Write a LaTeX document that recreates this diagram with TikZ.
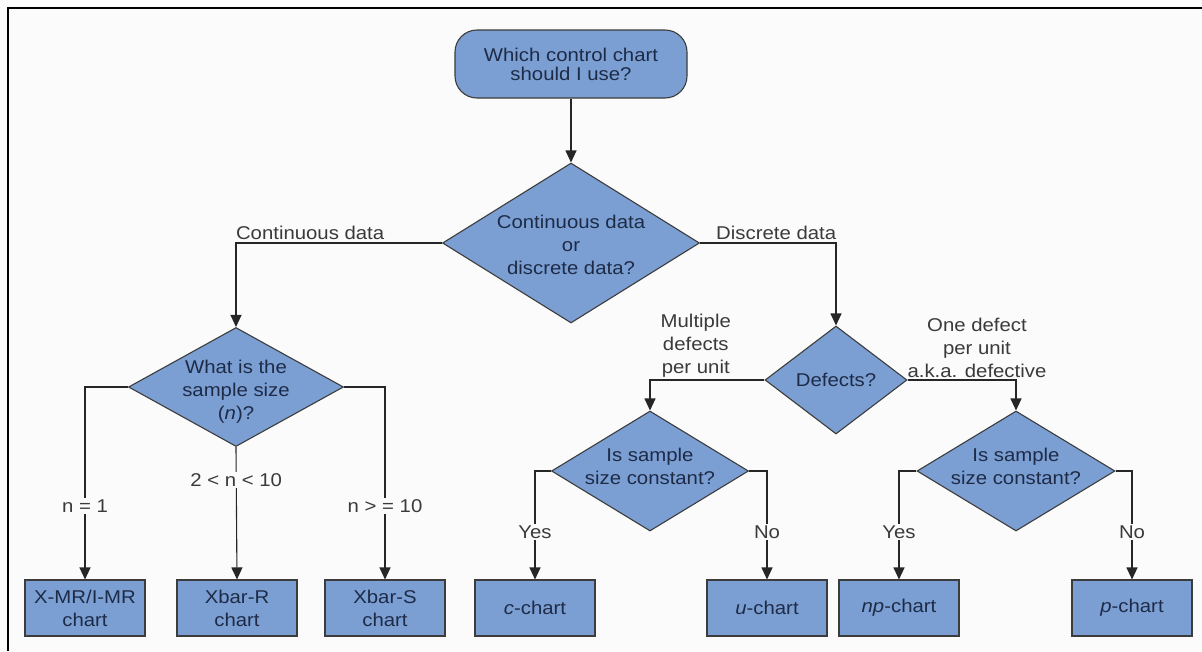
\documentclass[tikz,border=0pt]{standalone}
\usepackage{fontspec}
\setmainfont{Liberation Sans}[FakeStretch=1.1]
\usetikzlibrary{shapes.geometric,arrows.meta}
\definecolor{boxfill}{HTML}{7B9FD3}
\definecolor{boxline}{HTML}{3C3C3C}
\definecolor{txtin}{HTML}{1E2B47}
\definecolor{txtout}{HTML}{3A3A3A}
\definecolor{bgc}{HTML}{FBFBFB}
\begin{document}
\begin{tikzpicture}[x=1pt,y=-1pt,
  font=\fontsize{18.5}{23}\selectfont,
  shapebase/.style={draw=boxline,fill=boxfill,line width=1.1pt,inner sep=0pt},
  startbox/.style={shapebase,rectangle,rounded corners=22pt,minimum width=232pt,minimum height=68pt,
     text=txtin,align=center,font=\fontsize{18.5}{19}\selectfont},
  dia/.style={shapebase,diamond},
  intext/.style={text=txtin,align=center,inner sep=0pt},
  chartbox/.style={shapebase,rectangle,minimum width=120pt,minimum height=56pt,text=txtin,align=center},
  arr/.style={draw=black!85,line width=1.1pt,-{Triangle[width=11pt,length=12pt]}},
  lab/.style={text=txtout,align=center,inner sep=1pt},
  vlab/.style={lab,fill=bgc,inner sep=1.5pt}
]
\useasboundingbox (0,0) rectangle (1202,651);
\fill[bgc] (0,0) rectangle (1202,651);
\draw[line width=2pt,black] (8,651) -- (8,8) -- (1202,8);

% start
\node[startbox] (start) at (571,64) {Which control chart\\should I use?};

% main diamond
\node[dia,minimum width=257pt,minimum height=160pt] (d1) at (571,243) {};
\node[intext] (d1t) at (571,245) {Continuous data\\or\\discrete data?};

% sample size diamond
\node[dia,minimum width=215pt,minimum height=119pt] (d2) at (236,387) {};
\node[intext] (d2t) at (236,392) {What is the\\sample size\\(\textit{n})?};

% defects diamond
\node[dia,minimum width=142pt,minimum height=108pt] (def) at (836,380) {};
\node[intext] (deft) at (836,380) {Defects?};

% sample constant diamonds
\node[dia,minimum width=197pt,minimum height=120pt] (d3) at (650,471) {};
\node[intext] (d3t) at (650,466) {Is sample\\size constant?};
\node[dia,minimum width=198pt,minimum height=120pt] (d4) at (1016,471) {};
\node[intext] (d4t) at (1016,466) {Is sample\\size constant?};

% chart boxes
\node[chartbox] (b1) at (85,608) {X-MR/I-MR\\chart};
\node[chartbox] (b2) at (237,608) {Xbar-R\\chart};
\node[chartbox] (b3) at (385,608) {Xbar-S\\chart};
\node[chartbox] (b4) at (535,608) {\textit{c}-chart};
\node[chartbox] (b5) at (767,608) {\textit{u}-chart};
\node[chartbox] (b6) at (899,608) {\textit{np}-chart};
\node[chartbox] (b7) at (1132,608) {\textit{p}-chart};

% connectors
\draw[arr] (start.south) -- (d1.north);
\draw[arr] (d1.west) -| node[lab,pos=0.32,anchor=south,yshift=2pt] (lc) {Continuous data} (d2.north);
\draw[arr] (d1.east) -| node[lab,pos=0.28,anchor=south,yshift=2pt] (ld) {Discrete data} (def.north);

\draw[arr] (d2.west) -| node[vlab,pos=0.81] (l1) {n = 1} (b1.north);
\draw[arr] (d2.south) -- node[vlab,pos=0.25] (l2) {2 < n < 10} (b2.north);
\draw[arr] (d2.east) -| node[vlab,pos=0.81] (l3) {n > = 10} (b3.north);

\draw[arr] (def.west) -| node[lab,pos=0.30,anchor=south,yshift=1pt] (lm) {Multiple\\defects\\per unit} (d3.north);
\draw[arr] (def.east) -| node[lab,pos=0.32,anchor=south,yshift=1pt] (lo) {One defect\\per unit\\a.k.a. defective} (d4.north);

\draw[arr] (d3.west) -| node[vlab,pos=0.78] (ly1) {Yes} (b4.north);
\draw[arr] (d3.east) -| node[vlab,pos=0.78] (ln1) {No} (b5.north);
\draw[arr] (d4.west) -| node[vlab,pos=0.78] (ly2) {Yes} (b6.north);
\draw[arr] (d4.east) -| node[vlab,pos=0.78] (ln2) {No} (b7.north);
\end{tikzpicture}
\end{document}
